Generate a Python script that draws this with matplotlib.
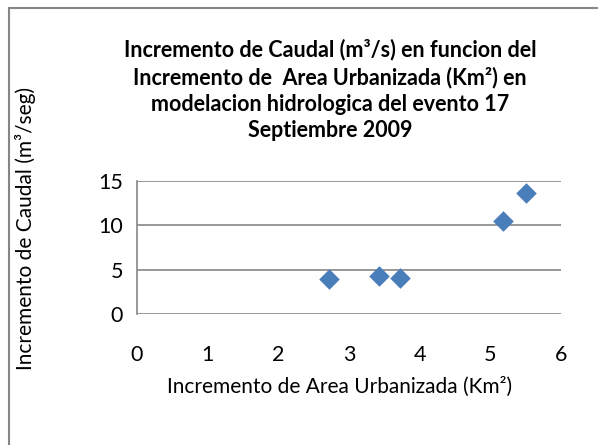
import matplotlib.pyplot as plt
from matplotlib.patches import Rectangle

# data
area = [2.71, 3.42, 3.72, 5.18, 5.51]
caudal = [4.0, 4.3, 4.1, 10.5, 13.6]

xticks = [0, 1, 2, 3, 4, 5, 6]
yticks = [0, 5, 10, 15]

plt.rcParams['font.family'] = ['Lato', 'DejaVu Sans']

fig = plt.figure(figsize=(5.98, 4.45), dpi=100)
W, H = 598, 445
ax = fig.add_axes([137 / W, 1 - 314 / H, (561 - 137) / W, (314 - 181) / H])

ax.scatter(area, caudal, marker='D', s=110, color='#4a7ebb', zorder=3, linewidths=0)

ax.set_xlim(0, 6)
ax.set_ylim(0, 15)
ax.set_xticks(xticks)
ax.set_yticks(yticks)
ax.grid(axis='y', color='#868686', linewidth=1.2)
ax.set_axisbelow(True)
for s in ['top', 'right', 'bottom']:
    ax.spines[s].set_visible(False)
ax.spines['left'].set_color('#868686')
ax.spines['left'].set_linewidth(1.2)
ax.tick_params(length=0, labelsize=15.5)
ax.tick_params(axis='x', pad=22)
ax.tick_params(axis='y', pad=10)

fig.text(330 / W, 1 - 90 / H,
         'Incremento de Caudal (m³/s) en funcion del\n'
         'Incremento de  Area Urbanizada (Km²) en\n'
         'modelacion hidrologica del evento 17\n'
         'Septiembre 2009',
         ha='center', va='center', fontsize=15.5, fontweight='bold',
         linespacing=1.33)

fig.text(340 / W, 1 - 387 / H, 'Incremento de Area Urbanizada (Km²)',
         ha='center', va='center', fontsize=15)
fig.text(26 / W, 1 - 228 / H, 'Incremento de Caudal (m³/seg)',
         ha='center', va='center', rotation=90, fontsize=15)

fig.patches.append(Rectangle((9 / W, -0.1), 1.2, 1 - 8 / H + 0.1,
                             transform=fig.transFigure, fill=False,
                             edgecolor='#868686', linewidth=1.5))

fig.savefig('out.png', dpi=100)
